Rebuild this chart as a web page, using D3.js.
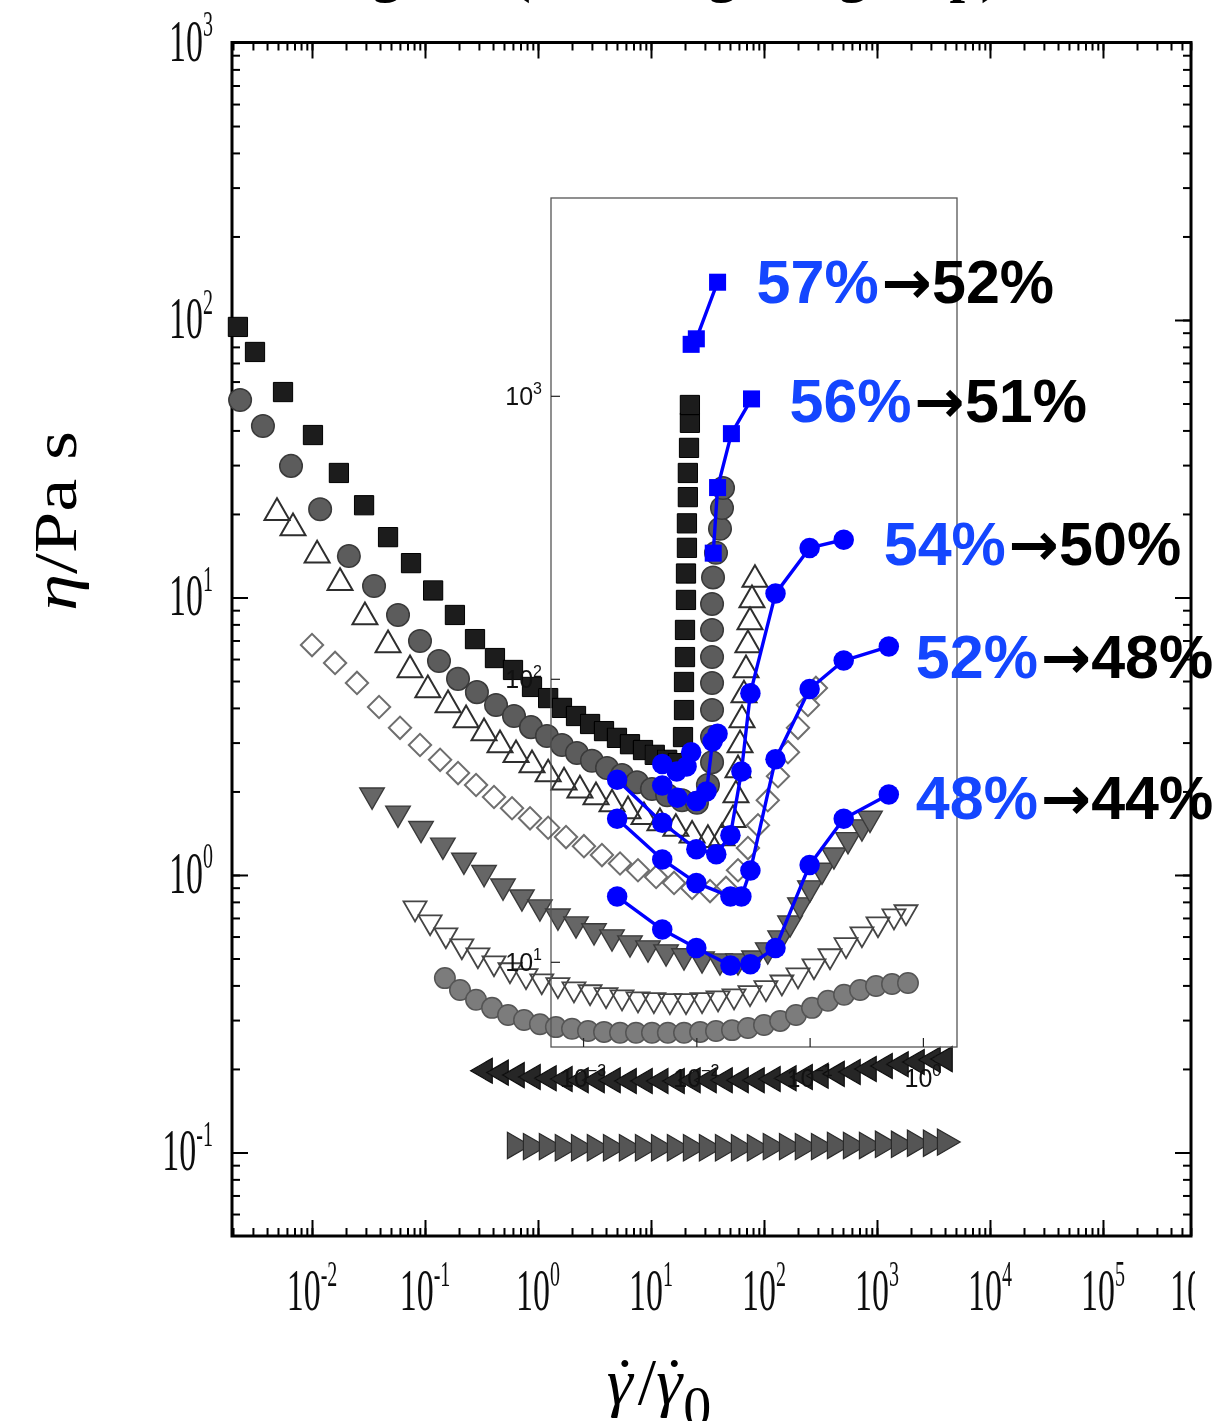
<!DOCTYPE html>
<html>
<head>
<meta charset="utf-8">
<script src="https://cdn.jsdelivr.net/npm/d3@7"></script>
<style>
  body { margin: 0; background: #fff; }
  svg { display: block; }
</style>
</head>
<body>
<script>
// ---------------- tick labels ----------------
const mainXExps = [-2, -1, 0, 1, 2, 3, 4, 5, 6];
const mainYExps = [-1, 0, 1, 2, 3];
const insetXExps = [-3, -2, -1, 0];
const insetYExps = [1, 2, 3];

// ---------------- main plot: viscosity vs reduced shear rate ----------------
// filled squares
const sqRate = [0.00221, 0.00313, 0.00554, 0.0102, 0.0173, 0.0289, 0.0471, 0.0752, 0.118, 0.184, 0.277, 0.416, 0.601, 0.885, 1.23, 1.63, 2.17, 2.89, 3.84, 5.00, 6.52, 8.50, 10.8, 13.9, 17.3, 19.2, 19.6, 19.6, 20.0, 20.0, 20.4, 20.4, 20.8, 20.8, 21.2, 21.2, 21.7, 22.1, 22.1];
const sqEta  = [94.4, 76.7, 55.0, 38.5, 28.1, 21.5, 16.5, 13.3, 10.6, 8.65, 7.08, 6.05, 5.48, 4.76, 4.34, 4.00, 3.74, 3.50, 3.30, 3.12, 2.96, 2.82, 2.71, 2.60, 2.53, 3.14, 3.93, 4.96, 6.10, 7.64, 9.80, 12.2, 15.1, 18.5, 23.0, 28.1, 34.6, 42.6, 49.4];
// filled dark circles
const ciRate = [0.00231, 0.00368, 0.00652, 0.0118, 0.0212, 0.0354, 0.0577, 0.0903, 0.133, 0.196, 0.288, 0.425, 0.613, 0.867, 1.20, 1.63, 2.21, 3.00, 4.08, 5.54, 7.52, 10.2, 13.9, 18.8, 25.5, 31.9, 34.7, 34.7, 34.7, 34.7, 34.7, 34.7, 34.7, 35.4, 37.6, 40.8, 42.5, 43.4];
const ciEta  = [51.5, 41.5, 29.8, 20.8, 14.1, 11.0, 8.65, 6.97, 5.90, 5.09, 4.56, 4.10, 3.74, 3.41, 3.17, 2.94, 2.75, 2.58, 2.43, 2.29, 2.16, 2.04, 1.94, 1.86, 1.82, 2.11, 2.55, 3.14, 3.93, 4.92, 6.10, 7.64, 9.48, 11.8, 14.5, 17.7, 21.0, 24.8];
// open up-triangles
const trRate = [0.00490, 0.00679, 0.0111, 0.0177, 0.0294, 0.0471, 0.0737, 0.106, 0.160, 0.231, 0.333, 0.461, 0.639, 0.885, 1.23, 1.70, 2.35, 3.26, 4.52, 6.26, 8.67, 12.0, 16.6, 23.1, 31.9, 42.5, 53.2, 56.5, 58.9, 61.4, 63.9, 66.5, 69.3, 72.1, 75.2, 78.3, 83.2];
const trEta  = [20.2, 17.8, 14.2, 11.3, 8.51, 6.74, 5.48, 4.64, 4.10, 3.62, 3.25, 2.94, 2.71, 2.49, 2.31, 2.16, 2.02, 1.91, 1.80, 1.70, 1.62, 1.54, 1.47, 1.39, 1.34, 1.36, 1.58, 1.94, 2.39, 2.94, 3.62, 4.45, 5.48, 6.74, 8.16, 9.80, 11.6];
// open diamonds
const diRate = [0.0100, 0.0160, 0.0250, 0.0392, 0.0601, 0.0903, 0.136, 0.196, 0.283, 0.408, 0.589, 0.850, 1.23, 1.77, 2.55, 3.68, 5.32, 7.67, 11.1, 16.0, 23.1, 33.3, 46.1, 58.9, 72.1, 88.5, 108, 133, 163, 200, 245, 288];
const diEta  = [6.74, 5.81, 4.92, 4.03, 3.39, 2.94, 2.60, 2.33, 2.11, 1.91, 1.74, 1.60, 1.48, 1.37, 1.27, 1.18, 1.10, 1.04, 0.984, 0.936, 0.898, 0.875, 0.898, 1.04, 1.25, 1.51, 1.86, 2.27, 2.77, 3.39, 4.10, 4.72];
// filled down-triangles
const dtRate = [0.0340, 0.0577, 0.0922, 0.144, 0.221, 0.333, 0.490, 0.721, 1.04, 1.50, 2.17, 3.13, 4.52, 6.52, 9.41, 13.6, 19.6, 28.3, 40.8, 58.9, 81.6, 108, 139, 170, 208, 255, 326, 416, 554, 736, 867];
const dtEta  = [1.94, 1.67, 1.47, 1.28, 1.13, 1.02, 0.912, 0.833, 0.767, 0.711, 0.666, 0.629, 0.598, 0.569, 0.546, 0.528, 0.511, 0.498, 0.490, 0.490, 0.502, 0.537, 0.593, 0.671, 0.780, 0.898, 1.04, 1.18, 1.34, 1.49, 1.60];
// open down-triangles
const odRate = [0.0816, 0.111, 0.153, 0.212, 0.294, 0.408, 0.565, 0.783, 1.08, 1.50, 2.08, 2.89, 4.00, 5.54, 7.67, 10.6, 14.7, 20.4, 28.3, 39.2, 54.3, 75.2, 104, 144, 200, 277, 384, 532, 736, 1021, 1413, 1806];
const odEta  = [0.760, 0.677, 0.608, 0.555, 0.515, 0.482, 0.455, 0.433, 0.415, 0.402, 0.388, 0.379, 0.370, 0.363, 0.357, 0.355, 0.352, 0.352, 0.355, 0.360, 0.366, 0.376, 0.392, 0.411, 0.436, 0.470, 0.511, 0.560, 0.613, 0.666, 0.711, 0.736];
// filled light circles
const lcRate = [0.150, 0.204, 0.283, 0.392, 0.543, 0.752, 1.04, 1.44, 2.00, 2.77, 3.84, 5.32, 7.37, 10.2, 14.1, 19.6, 27.2, 37.6, 52.1, 72.1, 100, 139, 192, 266, 368, 511, 708, 980, 1358, 1880];
const lcEta  = [0.425, 0.385, 0.355, 0.332, 0.313, 0.300, 0.290, 0.283, 0.279, 0.274, 0.272, 0.270, 0.270, 0.270, 0.270, 0.270, 0.272, 0.274, 0.276, 0.281, 0.288, 0.298, 0.313, 0.332, 0.352, 0.370, 0.385, 0.398, 0.405, 0.408];
// filled left-triangles
const ltRate = [0.340, 0.471, 0.652, 0.903, 1.25, 1.73, 2.40, 3.33, 4.61, 6.39, 8.85, 12.2, 17.0, 23.5, 32.6, 45.2, 62.6, 86.7, 120, 166, 231, 319, 443, 613, 850, 1178, 1630, 2260, 3130, 4000];
const ltEta  = [0.197, 0.194, 0.190, 0.187, 0.185, 0.184, 0.182, 0.182, 0.182, 0.181, 0.181, 0.181, 0.181, 0.182, 0.182, 0.182, 0.182, 0.182, 0.184, 0.185, 0.187, 0.189, 0.192, 0.195, 0.200, 0.205, 0.208, 0.212, 0.216, 0.217];
// filled right-triangles
const rtRate = [0.626, 0.867, 1.20, 1.66, 2.31, 3.19, 4.43, 6.13, 8.50, 11.8, 16.3, 22.6, 31.3, 43.4, 60.1, 83.2, 115, 160, 221, 307, 425, 589, 816, 1130, 1566, 2170, 3006, 4000];
const rtEta  = [0.106, 0.105, 0.105, 0.104, 0.104, 0.104, 0.104, 0.104, 0.104, 0.104, 0.104, 0.104, 0.104, 0.104, 0.104, 0.104, 0.105, 0.105, 0.105, 0.105, 0.106, 0.106, 0.106, 0.107, 0.107, 0.108, 0.108, 0.109];

// ---------------- inset: viscosity vs shear rate, by packing fraction ----------------
const pctFrom = ['57%', '56%', '54%', '52%', '48%'];
const pctTo   = ['52%', '51%', '50%', '48%', '44%'];
const b57LowRate  = [0.0050, 0.0067, 0.0082, 0.0090];
const b57LowEta   = [50, 47, 49, 55];
const b57HighRate = [0.0090, 0.0100, 0.0154];
const b57HighEta  = [1520, 1590, 2520];
const b56LowRate  = [0.0050, 0.0068, 0.0100, 0.0123, 0.0139, 0.0154];
const b56LowEta   = [42, 38, 37, 40, 60, 64];
const b56HighRate = [0.0141, 0.0154, 0.0204, 0.0307];
const b56HighEta  = [278, 474, 735, 975];
const b54Rate = [0.002, 0.005, 0.010, 0.015, 0.020, 0.025, 0.030, 0.050, 0.10, 0.20];
const b54Eta  = [44, 31, 25, 24, 28, 47, 89, 200, 290, 310];
const b52Rate = [0.002, 0.005, 0.010, 0.020, 0.025, 0.030, 0.050, 0.10, 0.20, 0.50];
const b52Eta  = [32, 23, 19, 17, 17, 21, 52, 92, 116, 130];
const b48Rate = [0.002, 0.005, 0.010, 0.020, 0.030, 0.050, 0.10, 0.20, 0.50];
const b48Eta  = [17, 13, 11.2, 9.7, 9.8, 11.2, 22, 32, 39];

// ---------------- layout ----------------
const W = 1220, H = 1421;
const svg = d3.select('body').append('svg').attr('width', W).attr('height', H);
const defs = svg.append('defs');
defs.append('clipPath').attr('id', 'pageClip')
  .append('rect').attr('x', 0).attr('y', 0).attr('width', 1195).attr('height', H);
defs.append('filter').attr('id', 'soft')
  .attr('filterUnits', 'userSpaceOnUse').attr('x', 0).attr('y', 0).attr('width', W).attr('height', H)
  .append('feGaussianBlur').attr('stdDeviation', 0.75);

const serif = '"Liberation Serif", "Times New Roman", serif';
const sans = '"Liberation Sans", Arial, Helvetica, sans-serif';

// main scales
const mL = 232, mR = 1191, mT = 42.5, mB = 1236;
const x = d3.scaleLog().domain([Math.pow(10, -2.708), Math.pow(10, 5.779)]).range([mL, mR]);
const y = d3.scaleLog().domain([Math.pow(10, -1.301), 1000]).range([mB, mT]);

// inset scales
const iL = 551, iR = 957, iT = 198, iB = 1047;
const xi = d3.scaleLog().domain([Math.pow(10, -3.283), 2]).range([iL, iR]);
const yi = d3.scaleLog().domain([5, 5000]).range([iB, iT]);

// ---------------- slide title (runs off the top edge; only descenders remain) ----------------
const title = svg.append('text')
  .attr('x', 0).attr('y', -9)
  .style('font-family', serif).style('font-weight', 'bold').style('font-size', '56px')
  .attr('fill', '#000')
  .text('Shear thickening test (shearing the group) data');
{
  const node = title.node();
  const gi = title.text().indexOf('g');
  const shift = 372 - node.getStartPositionOfChar(gi).x;
  title.attr('x', shift);
}

// ---------------- main plot ----------------
const main = svg.append('g').attr('clip-path', 'url(#pageClip)').append('g').attr('filter', 'url(#soft)');

const isDecade = v => Math.abs(Math.log10(v) - Math.round(Math.log10(v))) < 1e-6;
const xAll = x.ticks(80), xMaj = xAll.filter(isDecade);
const yAll = y.ticks(80), yMaj = yAll.filter(isDecade);

function frameTicks(axisGen, tr, scale, vals, size) {
  main.append('g').attr('transform', tr)
    .call(axisGen(scale).tickValues(vals).tickSize(size).tickSizeOuter(0).tickFormat(''))
    .call(g => g.select('.domain').remove())
    .call(g => g.selectAll('line').attr('stroke', '#000').attr('stroke-width', 2));
}
frameTicks(d3.axisBottom, `translate(0,${mB})`, x, xAll, -8);
frameTicks(d3.axisBottom, `translate(0,${mB})`, x, xMaj, -16);
frameTicks(d3.axisTop, `translate(0,${mT})`, x, xAll, -8);
frameTicks(d3.axisTop, `translate(0,${mT})`, x, xMaj, -16);
frameTicks(d3.axisLeft, `translate(${mL},0)`, y, yAll, -8);
frameTicks(d3.axisLeft, `translate(${mL},0)`, y, yMaj, -16);
frameTicks(d3.axisRight, `translate(${mR},0)`, y, yAll, -8);
frameTicks(d3.axisRight, `translate(${mR},0)`, y, yMaj, -16);

main.append('rect').attr('x', mL).attr('y', mT).attr('width', mR - mL).attr('height', mB - mT)
  .attr('fill', 'none').attr('stroke', '#000').attr('stroke-width', 3);

// tall, narrow tick labels of the scanned figure
const labStretch = 1.75;
function powLabel(parent, px, py, exp, anchor) {
  const t = parent.append('g').attr('transform', `translate(${px},${py}) scale(1,${labStretch})`)
    .append('text').attr('text-anchor', anchor)
    .style('font-family', serif).style('font-size', '34px').attr('fill', '#111');
  t.append('tspan').text('10');
  t.append('tspan').attr('dy', -14).style('font-size', '20px').text(String(exp));
}
mainXExps.forEach(e => powLabel(main, Math.min(x(Math.pow(10, e)), 1192), 1310, e, 'middle'));
mainYExps.forEach(e => powLabel(main, 213, y(Math.pow(10, e)) + 18, e, 'end'));

// series styles
const tri = d3.symbolTriangle, sq = d3.symbolSquare, ci = d3.symbolCircle;
const mainSeries = [
  { rate: rtRate, eta: rtEta, type: tri, rot: 90,  size: 300, fill: '#555', stroke: '#2a2a2a', sw: 1.2 },
  { rate: ltRate, eta: ltEta, type: tri, rot: -90, size: 270, fill: '#262626', stroke: '#111', sw: 1.2 },
  { rate: lcRate, eta: lcEta, type: ci,  rot: 0,   size: 330, fill: '#7c7c7c', stroke: '#555', sw: 1.5 },
  { rate: odRate, eta: odEta, type: tri, rot: 180, size: 230, fill: 'none', stroke: '#444', sw: 1.8 },
  { rate: dtRate, eta: dtEta, type: tri, rot: 180, size: 260, fill: '#666', stroke: '#3a3a3a', sw: 1.4 },
  { rate: diRate, eta: diEta, type: sq,  rot: 45,  size: 250, fill: 'none', stroke: '#6e6e6e', sw: 2 },
  { rate: trRate, eta: trEta, type: tri, rot: 0,   size: 270, fill: 'none', stroke: '#2e2e2e', sw: 2 },
  { rate: ciRate, eta: ciEta, type: ci,  rot: 0,   size: 400, fill: '#5c5c5c', stroke: '#3a3a3a', sw: 1.5 },
  { rate: sqRate, eta: sqEta, type: sq,  rot: 0,   size: 370, fill: '#1c1c1c', stroke: '#000', sw: 1 }
];
mainSeries.forEach(s => {
  const sym = d3.symbol().type(s.type).size(s.size);
  main.append('g').selectAll('path').data(d3.zip(s.rate, s.eta)).join('path')
    .attr('d', sym)
    .attr('transform', d => `translate(${x(d[0])},${y(d[1])}) rotate(${s.rot})`)
    .attr('fill', s.fill).attr('stroke', s.stroke).attr('stroke-width', s.sw);
});

// ---------------- axis titles ----------------
const yTitle = svg.append('text')
  .attr('transform', 'translate(76,521) rotate(-90)')
  .attr('text-anchor', 'middle')
  .attr('textLength', 180).attr('lengthAdjust', 'spacingAndGlyphs')
  .style('font-family', serif).style('font-size', '62px').attr('fill', '#000');
yTitle.append('tspan').style('font-style', 'italic').text('η');
yTitle.append('tspan').text('/Pa s');

// reduced shear rate: gamma-dot over gamma-dot-zero (dot set back over each gamma)
const xTitle = svg.append('text')
  .attr('x', 659).attr('y', 1404).attr('text-anchor', 'middle')
  .style('font-family', serif).style('font-size', '66px').attr('fill', '#000');
xTitle.append('tspan').style('font-style', 'italic').text('γ');
xTitle.append('tspan').attr('dx', -19).text('\u02D9');
xTitle.append('tspan').attr('dx', 2).text('/');
xTitle.append('tspan').style('font-style', 'italic').text('γ');
xTitle.append('tspan').attr('dx', -19).text('\u02D9');
xTitle.append('tspan').attr('dx', -2).attr('dy', 22).style('font-size', '56px').text('0');

// ---------------- inset ----------------
const inset = svg.append('g');
inset.append('rect').attr('x', iL).attr('y', iT).attr('width', iR - iL).attr('height', iB - iT)
  .attr('fill', 'none').attr('stroke', '#555').attr('stroke-width', 1.3);

inset.append('g').attr('transform', `translate(${iL},0)`)
  .call(d3.axisLeft(yi).tickValues(insetYExps.map(e => Math.pow(10, e))).tickSize(-9).tickSizeOuter(0).tickFormat(''))
  .call(g => g.select('.domain').remove())
  .call(g => g.selectAll('line').attr('stroke', '#222').attr('stroke-width', 1.2));
inset.append('g').attr('transform', `translate(0,${iB})`)
  .call(d3.axisBottom(xi).tickValues(insetXExps.map(e => Math.pow(10, e))).tickSize(-9).tickSizeOuter(0).tickFormat(''))
  .call(g => g.select('.domain').remove())
  .call(g => g.selectAll('line').attr('stroke', '#222').attr('stroke-width', 1.2));

function insetLabel(px, py, exp, anchor) {
  const t = inset.append('text').attr('x', px).attr('y', py).attr('text-anchor', anchor)
    .style('font-family', sans).style('font-size', '25px').attr('fill', '#111');
  t.append('tspan').text('10');
  t.append('tspan').attr('dy', -11).style('font-size', '16px').text(exp < 0 ? '\u2212' + (-exp) : String(exp));
}
insetYExps.forEach(e => insetLabel(542, yi(Math.pow(10, e)) + 9, e, 'end'));
insetXExps.forEach(e => insetLabel(xi(Math.pow(10, e)), 1087, e, 'middle'));

// blue data segments: k = index into the labels
const blueSegs = [
  { k: 0, shape: 'circle', rate: b57LowRate,  eta: b57LowEta },
  { k: 0, shape: 'square', rate: b57HighRate, eta: b57HighEta },
  { k: 1, shape: 'circle', rate: b56LowRate,  eta: b56LowEta },
  { k: 1, shape: 'square', rate: b56HighRate, eta: b56HighEta },
  { k: 2, shape: 'circle', rate: b54Rate, eta: b54Eta },
  { k: 3, shape: 'circle', rate: b52Rate, eta: b52Eta },
  { k: 4, shape: 'circle', rate: b48Rate, eta: b48Eta }
];
const blue = '#0000ff';
const line = d3.line().x(d => xi(d[0])).y(d => yi(d[1]));
blueSegs.forEach(s => {
  const pts = d3.zip(s.rate, s.eta);
  inset.append('path').attr('d', line(pts)).attr('fill', 'none')
    .attr('stroke', blue).attr('stroke-width', 3.4).attr('stroke-linejoin', 'round');
  const sym = d3.symbol().type(s.shape === 'square' ? d3.symbolSquare : d3.symbolCircle)
    .size(s.shape === 'square' ? 290 : 330);
  inset.append('g').selectAll('path').data(pts).join('path')
    .attr('d', sym).attr('transform', d => `translate(${xi(d[0])},${yi(d[1])})`)
    .attr('fill', blue);
});

// labels next to the highest-rate point of each packing fraction
const labelDx = [39, 38, 40, 27, 27];
const labelDy = [21, 23, 25, 31, 24];
pctFrom.forEach((p, k) => {
  const segs = blueSegs.filter(s => s.k === k);
  const last = segs[segs.length - 1];
  const n = last.rate.length - 1;
  const lx = xi(last.rate[n]) + labelDx[k];
  const ly = yi(last.eta[n]) + labelDy[k];
  const t = inset.append('text').attr('x', lx).attr('y', ly)
    .style('font-family', sans).style('font-weight', 'bold').style('font-size', '61px');
  t.append('tspan').attr('fill', '#1446ff').text(p);
  t.append('tspan').attr('fill', '#000').attr('dx', 3)
    .style('font-family', '"DejaVu Sans", sans-serif').style('font-size', '60px').text('\u2192');
  t.append('tspan').attr('fill', '#000').text(pctTo[k]);
});
</script>
</body>
</html>
